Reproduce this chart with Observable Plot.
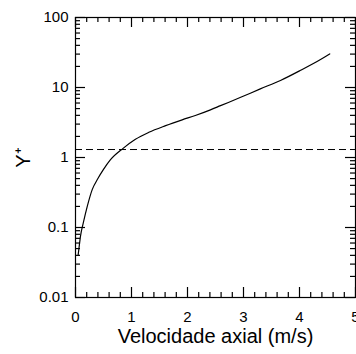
<!DOCTYPE html>
<html><head><meta charset="utf-8">
<script src="https://cdn.jsdelivr.net/npm/d3@7"></script>
<script src="https://cdn.jsdelivr.net/npm/@observablehq/plot@0.6"></script>
<style>body{margin:0;background:#fff} svg{display:block}</style>
</head><body><div id="chart"></div>
<script>
const velocity = [0.048, 0.06, 0.09, 0.14, 0.21, 0.30, 0.40, 0.50, 0.625, 0.85, 1.07, 1.31, 1.61, 1.905, 2.14, 2.41, 2.59, 2.95, 3.30, 3.66, 4.02, 4.375, 4.54];
const yPlus = [0.041, 0.049, 0.076, 0.117, 0.20, 0.35, 0.50, 0.675, 0.93, 1.35, 1.82, 2.29, 2.85, 3.45, 3.98, 4.79, 5.50, 7.24, 9.55, 12.6, 17.6, 25.1, 30.2];
const threshold = [1.3];
const xMajor = [0, 1, 2, 3, 4, 5];
const xMinor = [0.2, 0.4, 0.6, 0.8, 1.2, 1.4, 1.6, 1.8, 2.2, 2.4, 2.6, 2.8, 3.2, 3.4, 3.6, 3.8, 4.2, 4.4, 4.6, 4.8];
const yMajor = [0.01, 0.1, 1, 10, 100];
const yMinor = [0.02,0.03,0.04,0.05,0.06,0.07,0.08,0.09, 0.2,0.3,0.4,0.5,0.6,0.7,0.8,0.9, 2,3,4,5,6,7,8,9, 20,30,40,50,60,70,80,90];
const yLabels = ["0.01", "0.1", "1", "10", "100"];
const xTitle = "Velocidade axial (m/s)";
const yTitle = "Y⁺";

const W = 356, H = 354, ML = 75, MT = 17, MR = 1, MB = 57;
const FW = W - ML - MR, FH = H - MT - MB;
const data = velocity.map((v, i) => ({v, y: yPlus[i]}));

const xTicks = (values, side, len) => Plot.ruleX(values, {
  x: d => d, stroke: "black", strokeWidth: 1.2,
  ...(side === "bottom" ? {insetTop: FH - len} : {insetBottom: FH - len})
});
const yTicks = (values, side, len) => Plot.ruleY(values, {
  y: d => d, stroke: "black", strokeWidth: 1.2,
  ...(side === "left" ? {insetRight: FW - len} : {insetLeft: FW - len})
});

const chart = Plot.plot({
  width: W,
  height: H,
  marginLeft: ML,
  marginTop: MT,
  marginRight: MR,
  marginBottom: MB,
  style: {fontFamily: "'Liberation Sans', Arial, sans-serif", color: "black", background: "white"},
  x: {domain: [0, 5], axis: null},
  y: {type: "log", domain: [0.01, 100], axis: null},
  marks: [
    Plot.ruleY(threshold, {stroke: "black", strokeWidth: 1, strokeDasharray: "7,4"}),
    Plot.line(data, {x: "v", y: "y", stroke: "black", strokeWidth: 1.2, curve: "monotone-x"}),
    xTicks(xMajor, "bottom", 10),
    xTicks(xMinor, "bottom", 5),
    xTicks(xMajor, "top", 10),
    xTicks(xMinor, "top", 5),
    yTicks(yMajor, "left", 10),
    yTicks(yMinor, "left", 5),
    yTicks(yMajor, "right", 10),
    yTicks(yMinor, "right", 5),
    Plot.text(xMajor, {x: d => d, text: d => String(d), frameAnchor: "bottom", lineAnchor: "top", dy: 14, fontSize: 15, fill: "black"}),
    Plot.text(yMajor, {y: d => d, text: d => yLabels[yMajor.indexOf(d)], frameAnchor: "left", textAnchor: "end", lineAnchor: "middle", dx: -7, fontSize: 15, fill: "black"}),
    Plot.text([xTitle], {text: d => d, frameAnchor: "bottom", lineAnchor: "middle", textAnchor: "middle", dy: 39, fontSize: 20, fill: "black"}),
    Plot.text([yTitle], {text: d => d, frameAnchor: "left", textAnchor: "middle", lineAnchor: "middle", dx: -52, rotate: -90, fontSize: 20, fill: "black"}),
    Plot.frame({stroke: "black", strokeWidth: 1.2})
  ]
});
document.getElementById("chart").append(chart);
</script>
</body></html>
